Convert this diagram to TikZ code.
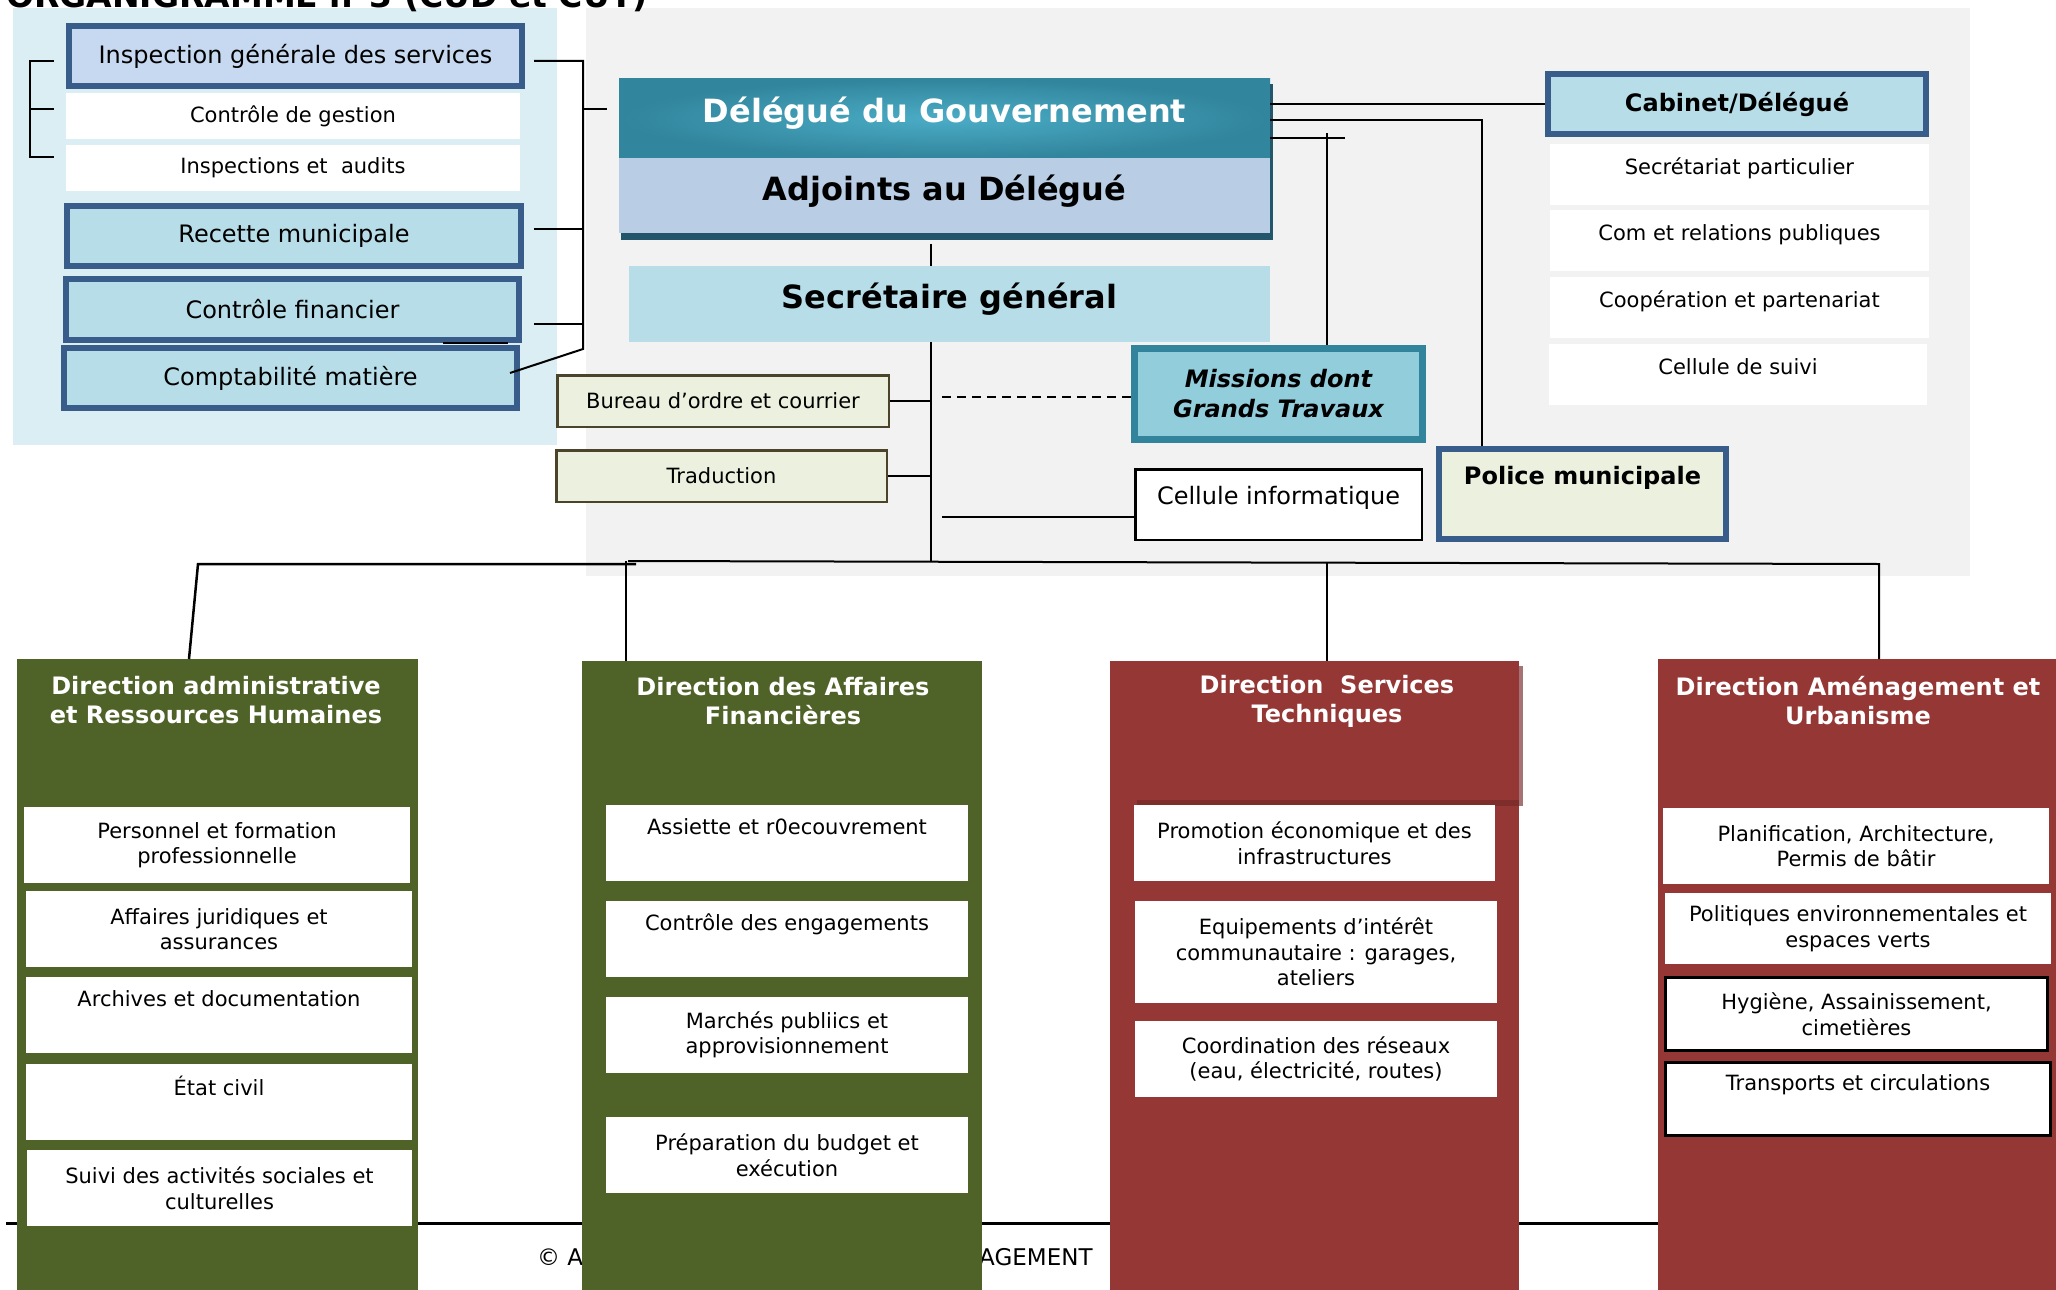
\documentclass[tikz,border=0pt]{standalone}
\usepackage{fontspec}
\setmainfont{DejaVu Sans}
\usetikzlibrary{calc}

% type sizes (1pt = one unit of the drawing)
\newcommand\szN{\fontsize{21}{25.5}\selectfont}
\newcommand\szM{\fontsize{24}{29}\selectfont}
\newcommand\szB{\fontsize{32}{38}\selectfont}
\newcommand\szT{\fontsize{33}{38}\selectfont}
\newcommand\szF{\fontsize{23}{27}\selectfont}

\definecolor{panelblue}{HTML}{DAEEF3}
\definecolor{panelgrey}{HTML}{F2F2F2}
\definecolor{frameblue}{HTML}{385D8A}
\definecolor{inspfill}{HTML}{C6D9F1}
\definecolor{tealfill}{HTML}{B7DEE8}
\definecolor{tealout}{HTML}{31859C}
\definecolor{tealin}{HTML}{4BACC6}
\definecolor{adjfill}{HTML}{B9CDE5}
\definecolor{shadowteal}{HTML}{23566A}
\definecolor{missfr}{HTML}{31849B}
\definecolor{missfill}{HTML}{92CDDC}
\definecolor{olivefr}{HTML}{4A452A}
\definecolor{olivefill}{HTML}{EBF1DE}
\definecolor{dirgreen}{HTML}{4F6228}
\definecolor{dirred}{HTML}{953735}
\definecolor{redshadow}{HTML}{A47474}
\definecolor{reddark}{HTML}{7F2D2B}

\begin{document}
\begin{tikzpicture}[x=1pt,y=-1pt,
  box/.style={rectangle, inner sep=2pt, align=center, font=\szN},
  wbox/.style={box, fill=white},
  bframe/.style={box, draw=frameblue, line width=6pt, font=\szM},
  pale/.style={box, fill=olivefill, draw=olivefr, line width=2.5pt},
  dircol/.style={rectangle, anchor=north west, minimum width=#1, minimum height=640pt, inner sep=0pt},
  dtitle/.style={align=center, font=\szM\bfseries, text=white, inner sep=0pt},
  conn/.style={line width=2pt, black},
  tb/.style 2 args={text height=#1, text depth=#2},
]
\useasboundingbox (0,0) rectangle (2056,1290);

% background panels
\fill[panelblue] (13,8) rectangle (557,445);
\fill[panelgrey] (586,8) rectangle (1970,576);

% heading, mostly above the page
\node[font=\szT\bfseries, anchor=base west, inner sep=0pt] (title) at (6,8) {ORGANIGRAMME n°3 (CUD et CUT)};

% footer rule and footer text
\coordinate (fl) at (6,1223);
\coordinate (fr) at (2056,1223);
\draw[line width=3pt] (fl) -- (fr);
\node[font=\szF, anchor=base west, inner sep=0pt] (copy) at (537,1265) {© A};
\node[font=\szF, anchor=base west, inner sep=0pt] (agem) at (979,1265) {AGEMENT};

% ---------------- control bodies (left)
\node[bframe, fill=inspfill, minimum width=453pt, minimum height=60pt] (ig) at (295.5,56) {Inspection générale des services};
\node[wbox, minimum width=454pt, minimum height=46pt] (cg) at (293,116) {Contrôle de gestion};
\node[wbox, minimum width=454pt, minimum height=46pt] (ia) at (293,168) {Inspections et~ audits};
\node[bframe, fill=tealfill, minimum width=454pt, minimum height=60pt] (rm) at (294,236) {Recette municipale};
\node[bframe, fill=tealfill, minimum width=453pt, minimum height=61pt] (cf) at (292.5,309.5) {Contrôle financier};
\node[bframe, fill=tealfill, minimum width=453pt, minimum height=60pt] (cm) at (290.5,378) {Comptabilité matière};

% ---------------- executive
\node[rectangle, inner sep=0pt, minimum width=651pt, minimum height=79pt, inner color=tealin, outer color=tealout,
      font=\szB\bfseries, text=white, tb={24pt}{17pt}] (dg) at (944.5,118.5) {Délégué du Gouvernement};
\node[rectangle, inner sep=0pt, minimum width=651pt, minimum height=75pt, fill=adjfill,
      font=\szB\bfseries, tb={24pt}{14pt}] (adj) at (944.5,195.5) {Adjoints au Délégué};
\fill[shadowteal] (621,233) rectangle (1273,240);
\fill[shadowteal] (1270,84) rectangle (1273,240);
\node[rectangle, inner sep=0pt, minimum width=641pt, minimum height=76pt, fill=tealfill,
      font=\szB\bfseries, tb={24pt}{15pt}] (sg) at (949.5,304) {Secrétaire général};

\node[pale, minimum width=331.5pt, minimum height=51.5pt] (bo) at (723,401) {Bureau d’ordre et courrier};
\node[pale, minimum width=330.5pt, minimum height=51.5pt] (tr) at (721.5,476) {Traduction};
\node[box, fill=missfill, draw=missfr, line width=7pt, minimum width=288pt, minimum height=91pt,
      font=\fontsize{24}{30}\selectfont\bfseries\itshape] (mgt) at (1278.5,394) {Missions dont\\Grands Travaux};
\node[box, fill=white, draw=black, line width=2.5pt, minimum width=286.5pt, minimum height=70.5pt,
      font=\szM, tb={18pt}{19pt}] (ci) at (1278.5,504.5) {Cellule informatique};
\node[bframe, fill=olivefill, minimum width=287pt, minimum height=90pt, font=\szM\bfseries] (pol) at (1582.5,494) {Police municipale\\\strut};

% ---------------- cabinet
\node[bframe, fill=tealfill, minimum width=378pt, minimum height=60pt, font=\szM\bfseries] (cab) at (1737,104) {Cabinet/Délégué};
\node[wbox, minimum width=379pt, minimum height=61pt, tb={16pt}{16pt}] (cab1) at (1739.5,174.5) {Secrétariat particulier};
\node[wbox, minimum width=379pt, minimum height=61pt, tb={16pt}{16pt}] (cab2) at (1739.5,240.5) {Com et relations publiques};
\node[wbox, minimum width=379pt, minimum height=61pt, tb={16pt}{16pt}] (cab3) at (1739.5,307.5) {Coopération et partenariat};
\node[wbox, minimum width=378pt, minimum height=61pt, tb={16pt}{16pt}] (cab4) at (1738,374.5) {Cellule de suivi};

% ---------------- directions
\node[dircol=401pt, fill=dirgreen] (d1) at (17,659) {};
\node[dircol=400pt, fill=dirgreen] (d2) at (582,661) {};
\node[dircol=409pt, fill=dirred] (d3) at (1110,661) {};
\node[dircol=400pt, fill=dirred] (d4) at (1658,659) {};
\fill[redshadow] (1519,666) rectangle (1523,806);
\fill[reddark] (1137,800) rectangle (1519,806);

\node[dtitle] (d1t) at (216,700) {Direction administrative\\et Ressources Humaines};
\node[dtitle] (d2t) at (783,701) {Direction des Affaires\\Financières};
\node[dtitle] (d3t) at (1327,701) {Direction~ Services\\Techniques};
\node[dtitle] (d4t) at (1858,701) {Direction Aménagement et\\Urbanisme};

% administration and human resources
\node[wbox, minimum width=386pt, minimum height=76pt] (p1) at (217,845) {Personnel et formation\\professionnelle};
\node[wbox, minimum width=386pt, minimum height=76pt] (p2) at (219,929) {Affaires juridiques et\\assurances};
\node[wbox, minimum width=386pt, minimum height=76pt] (p3) at (219,1015) {Archives et documentation\\\strut};
\node[wbox, minimum width=386pt, minimum height=76pt] (p4) at (219,1102) {État civil\\\strut};
\node[wbox, minimum width=385pt, minimum height=76pt] (p5) at (219.5,1188) {Suivi des activités sociales et\\culturelles};

% finance
\node[wbox, minimum width=362pt, minimum height=76pt] (f1) at (787,843) {Assiette et r0ecouvrement\\\strut};
\node[wbox, minimum width=362pt, minimum height=76pt] (f2) at (787,939) {Contrôle des engagements\\\strut};
\node[wbox, minimum width=362pt, minimum height=76pt] (f3) at (787,1035) {Marchés publiics et\\approvisionnement};
\node[wbox, minimum width=362pt, minimum height=76pt] (f4) at (787,1155) {Préparation du budget et\\exécution};

% technical services
\node[wbox, minimum width=361pt, minimum height=76pt] (t1) at (1314.5,843) {Promotion économique et des\\infrastructures};
\node[wbox, minimum width=362pt, minimum height=102pt] (t2) at (1316,952) {Equipements d’intérêt\\communautaire : garages,\\ateliers};
\node[wbox, minimum width=362pt, minimum height=76pt] (t3) at (1316,1059) {Coordination des réseaux\\(eau, électricité, routes)};

% planning and urbanism
\node[wbox, minimum width=386pt, minimum height=76pt] (u1) at (1856,846) {Planification, Architecture,\\Permis de bâtir};
\node[wbox, minimum width=386pt, minimum height=71pt] (u2) at (1858,928.5) {Politiques environnementales et\\espaces verts};
\node[wbox, draw=black, line width=3pt, minimum width=382pt, minimum height=73pt] (u3) at (1856.5,1014) {Hygiène, Assainissement,\\cimetières};
\node[wbox, draw=black, line width=3pt, minimum width=385pt, minimum height=73pt] (u4) at (1858,1099) {Transports et circulations\\\strut};

% ---------------- connectors
% left bracket of the inspection group
\coordinate (lb1) at (54,61);
\coordinate (lb2) at (54,109);
\coordinate (lb3) at (54,157);
\coordinate (lbx) at (30,0);
\draw[conn] (lb1) -- (lb1 -| lbx) -- (lb3 -| lbx) -- (lb3);
\draw[conn] (lb2 -| lbx) -- (lb2);

% right bracket gathering the control bodies
\coordinate (rbx) at (583,0);
\coordinate (rt1) at (534,61);
\coordinate (rt2) at (534,229);
\coordinate (rt3) at (534,324);
\coordinate (rbe) at (583,349);
\coordinate (rcm) at (510,373);
\coordinate (rdg) at (607,109);
\draw[conn] (rt1) -- (rt1 -| rbx) -- (rbe) -- (rcm);
\draw[conn] (rt2) -- (rt2 -| rbx);
\draw[conn] (rt3) -- (rt3 -| rbx);
\draw[conn] (rdg -| rbx) -- (rdg);
\coordinate (cfa) at (443,343);
\coordinate (cfb) at (508,343);
\draw[conn] (cfa) -- (cfb);

% delegate towards cabinet, police and missions
\draw[conn] (dg.east |- cab.west) -- (cab.west);
\coordinate (pj) at (1482,120);
\draw[conn] (dg.east |- pj) -- (pj) -- (pj |- pol.north);
\coordinate (mh) at (1345,138);
\coordinate (mj) at (1327,133);
\draw[conn] (dg.east |- mh) -- (mh);
\draw[conn] (mj) -- (mj |- mgt.north);

% main spine
\coordinate (spine) at (931,562);
\draw[conn] ([yshift=-11pt]spine |- adj.south) -- (spine |- sg.north);
\draw[conn] (spine |- sg.south) -- (spine);
\draw[conn] (bo.east) -- (spine |- bo.east);
\draw[conn] (tr.east) -- (spine |- tr.east);
\coordinate (dsh) at (942,397);
\draw[line width=2pt, dash pattern=on 9pt off 6pt] (dsh) -- (dsh -| mgt.west);
\coordinate (ci0) at (942,517);
\draw[conn] (ci0) -- (ci0 -| ci.west);

% bus to the four directions
\coordinate (busL) at (198,564);
\coordinate (busM) at (636,564);
\coordinate (busR0) at (628,561);
\coordinate (busR) at (1879,564);
\coordinate (d1j) at (189,659);
\coordinate (b2) at (626,561);
\coordinate (b3) at (1327,563);
\draw[line width=2.5pt] (busM) -- (busL) -- (d1j);
\draw[conn] (busR0) -- (busR) -- (busR |- d4.north);
\draw[conn] (b2) -- (b2 |- d2.north);
\draw[conn] (b3) -- (b3 |- d3.north);
\end{tikzpicture}
\end{document}
